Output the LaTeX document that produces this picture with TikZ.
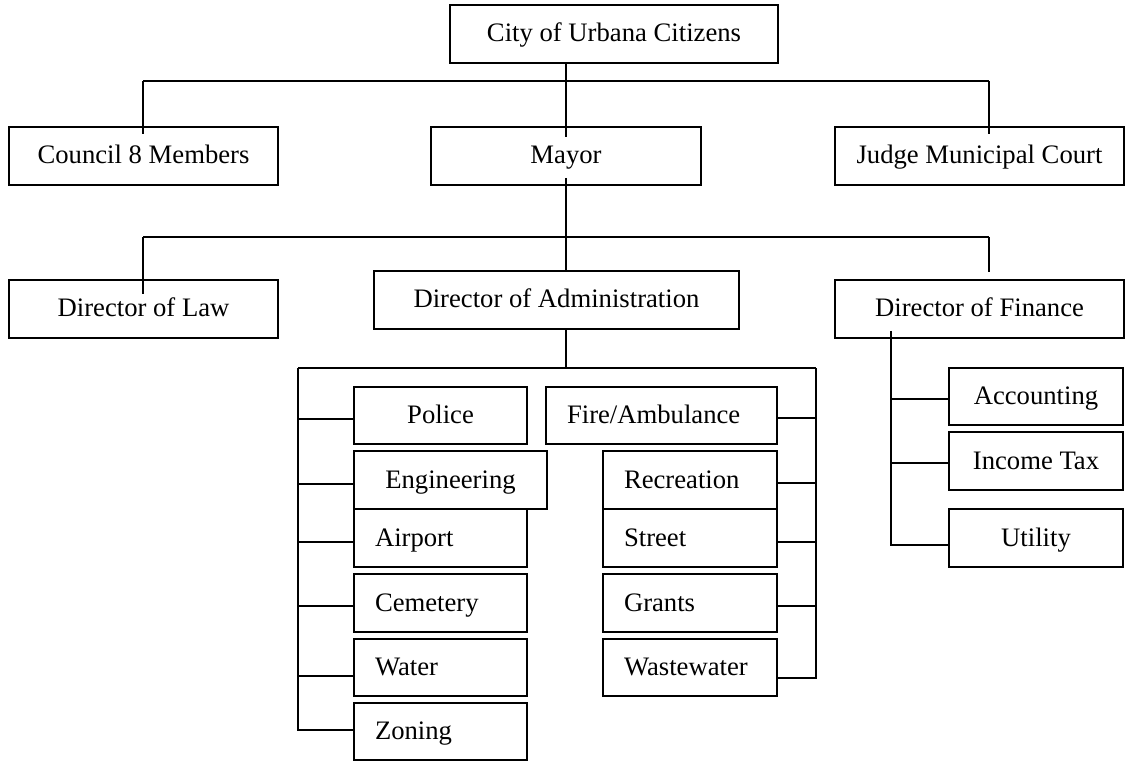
\documentclass[tikz,border=0pt]{standalone}
\usepackage{fontspec}
\setmainfont{Liberation Serif}
\usetikzlibrary{calc}
\newcommand\cbox[6]{\node[box,minimum width={(#4-#2)*0.75pt},minimum height={(#5-#3)*0.75pt}] (#1) at ({(#2+#4)/2},{(#3+#5)/2}) {#6};}
\newcommand\lbox[7]{\node[box,align=left,inner xsep=15.75pt,text width=#7,minimum height={(#5-#3)*0.75pt}] (#1) at ({(#2+#4)/2},{(#3+#5)/2}) {#6};}
\begin{document}
\begin{tikzpicture}[x=0.75pt,y=-0.75pt,line width=1.4pt,
  box/.style={draw,line width=1.4pt,inner sep=0pt,text height=14pt,text depth=2pt,font=\fontsize{20}{24}\selectfont}]
\useasboundingbox (0,0) rectangle (1126,762);
% boxes
\cbox{city}{450}{5}{778}{63}{City of Urbana Citizens}
\cbox{council}{9}{127}{278}{185}{Council 8 Members}
\cbox{mayor}{431}{127}{701}{185}{Mayor}
\cbox{judge}{835}{127}{1124}{185}{Judge Municipal Court}
\cbox{law}{9}{280}{278}{338}{Director of Law}
\cbox{admin}{374}{271}{739}{329}{Director of Administration}
\cbox{finance}{835}{280}{1124}{338}{Director of Finance}
\cbox{police}{354}{387}{527}{444}{Police}
\lbox{fire}{546}{387}{777}{444}{Fire/Ambulance}{141.75pt}
\cbox{eng}{354}{451}{547}{509}{Engineering}
\lbox{airport}{354}{509}{527}{567}{Airport}{98.25pt}
\lbox{cemetery}{354}{574}{527}{632}{Cemetery}{98.25pt}
\lbox{water}{354}{639}{527}{696}{Water}{98.25pt}
\lbox{zoning}{354}{703}{527}{760}{Zoning}{98.25pt}
\lbox{recreation}{603}{451}{777}{509}{Recreation}{99pt}
\lbox{street}{603}{509}{777}{567}{Street}{99pt}
\lbox{grants}{603}{574}{777}{632}{Grants}{99pt}
\lbox{wastewater}{603}{639}{777}{696}{Wastewater}{99pt}
\cbox{accounting}{949}{368}{1123}{425}{Accounting}
\cbox{incometax}{949}{432}{1123}{490}{Income Tax}
\cbox{utility}{949}{509}{1123}{567}{Utility}
% level 1
\coordinate (b1l) at (143,81);
\coordinate (b1r) at (989,81);
\draw (city.south -| mayor.north) -- ($(mayor.north)+(0,11)$);
\draw (b1l) -- (b1r);
\draw (b1l) -- ($(b1l |- council.north)+(0,8)$);
\draw (b1r) -- ($(b1r |- judge.north)+(0,8)$);
% level 2
\coordinate (b2l) at (143,237);
\coordinate (b2r) at (989,237);
\draw ($(mayor.south)+(0,-8)$) -- (admin.north -| mayor.south);
\draw (b2l) -- (b2r);
\draw (b2l) -- ($(b2l |- law.north)+(0,15)$);
\draw (b2r) -- ($(b2r |- finance.north)+(0,-7)$);
% administration departments
\coordinate (b3l) at (298,368);
\coordinate (b3r) at (816,368);
\draw (admin.south -| mayor.south) -- (b3l -| mayor.south);
\draw (b3l) -- (b3r);
\draw (b3l) -- ($(b3l |- zoning.west)+(0,-1.5)$) -- ($(zoning.west)+(0,-1.5)$);
\foreach \n/\d in {police/3.5,eng/4,airport/4,cemetery/3,water/8.5}
  \draw ($(\n.west)+(0,\d)$) -- ($(b3l |- \n.west)+(0,\d)$);
\draw (b3r) -- ($(b3r |- wastewater.east)+(0,10.5)$) -- ($(wastewater.east)+(0,10.5)$);
\foreach \n/\d in {fire/2.5,recreation/3,street/4,grants/3}
  \draw ($(\n.east)+(0,\d)$) -- ($(b3r |- \n.east)+(0,\d)$);
% finance departments
\coordinate (fv) at ($(finance.south west)+(57,-8)$);
\draw (fv) -- ($(fv |- utility.west)+(0,7)$) -- ($(utility.west)+(0,7)$);
\foreach \n/\d in {accounting/2.5,incometax/2}
  \draw ($(\n.west)+(0,\d)$) -- ($(fv |- \n.west)+(0,\d)$);
\end{tikzpicture}
\end{document}
